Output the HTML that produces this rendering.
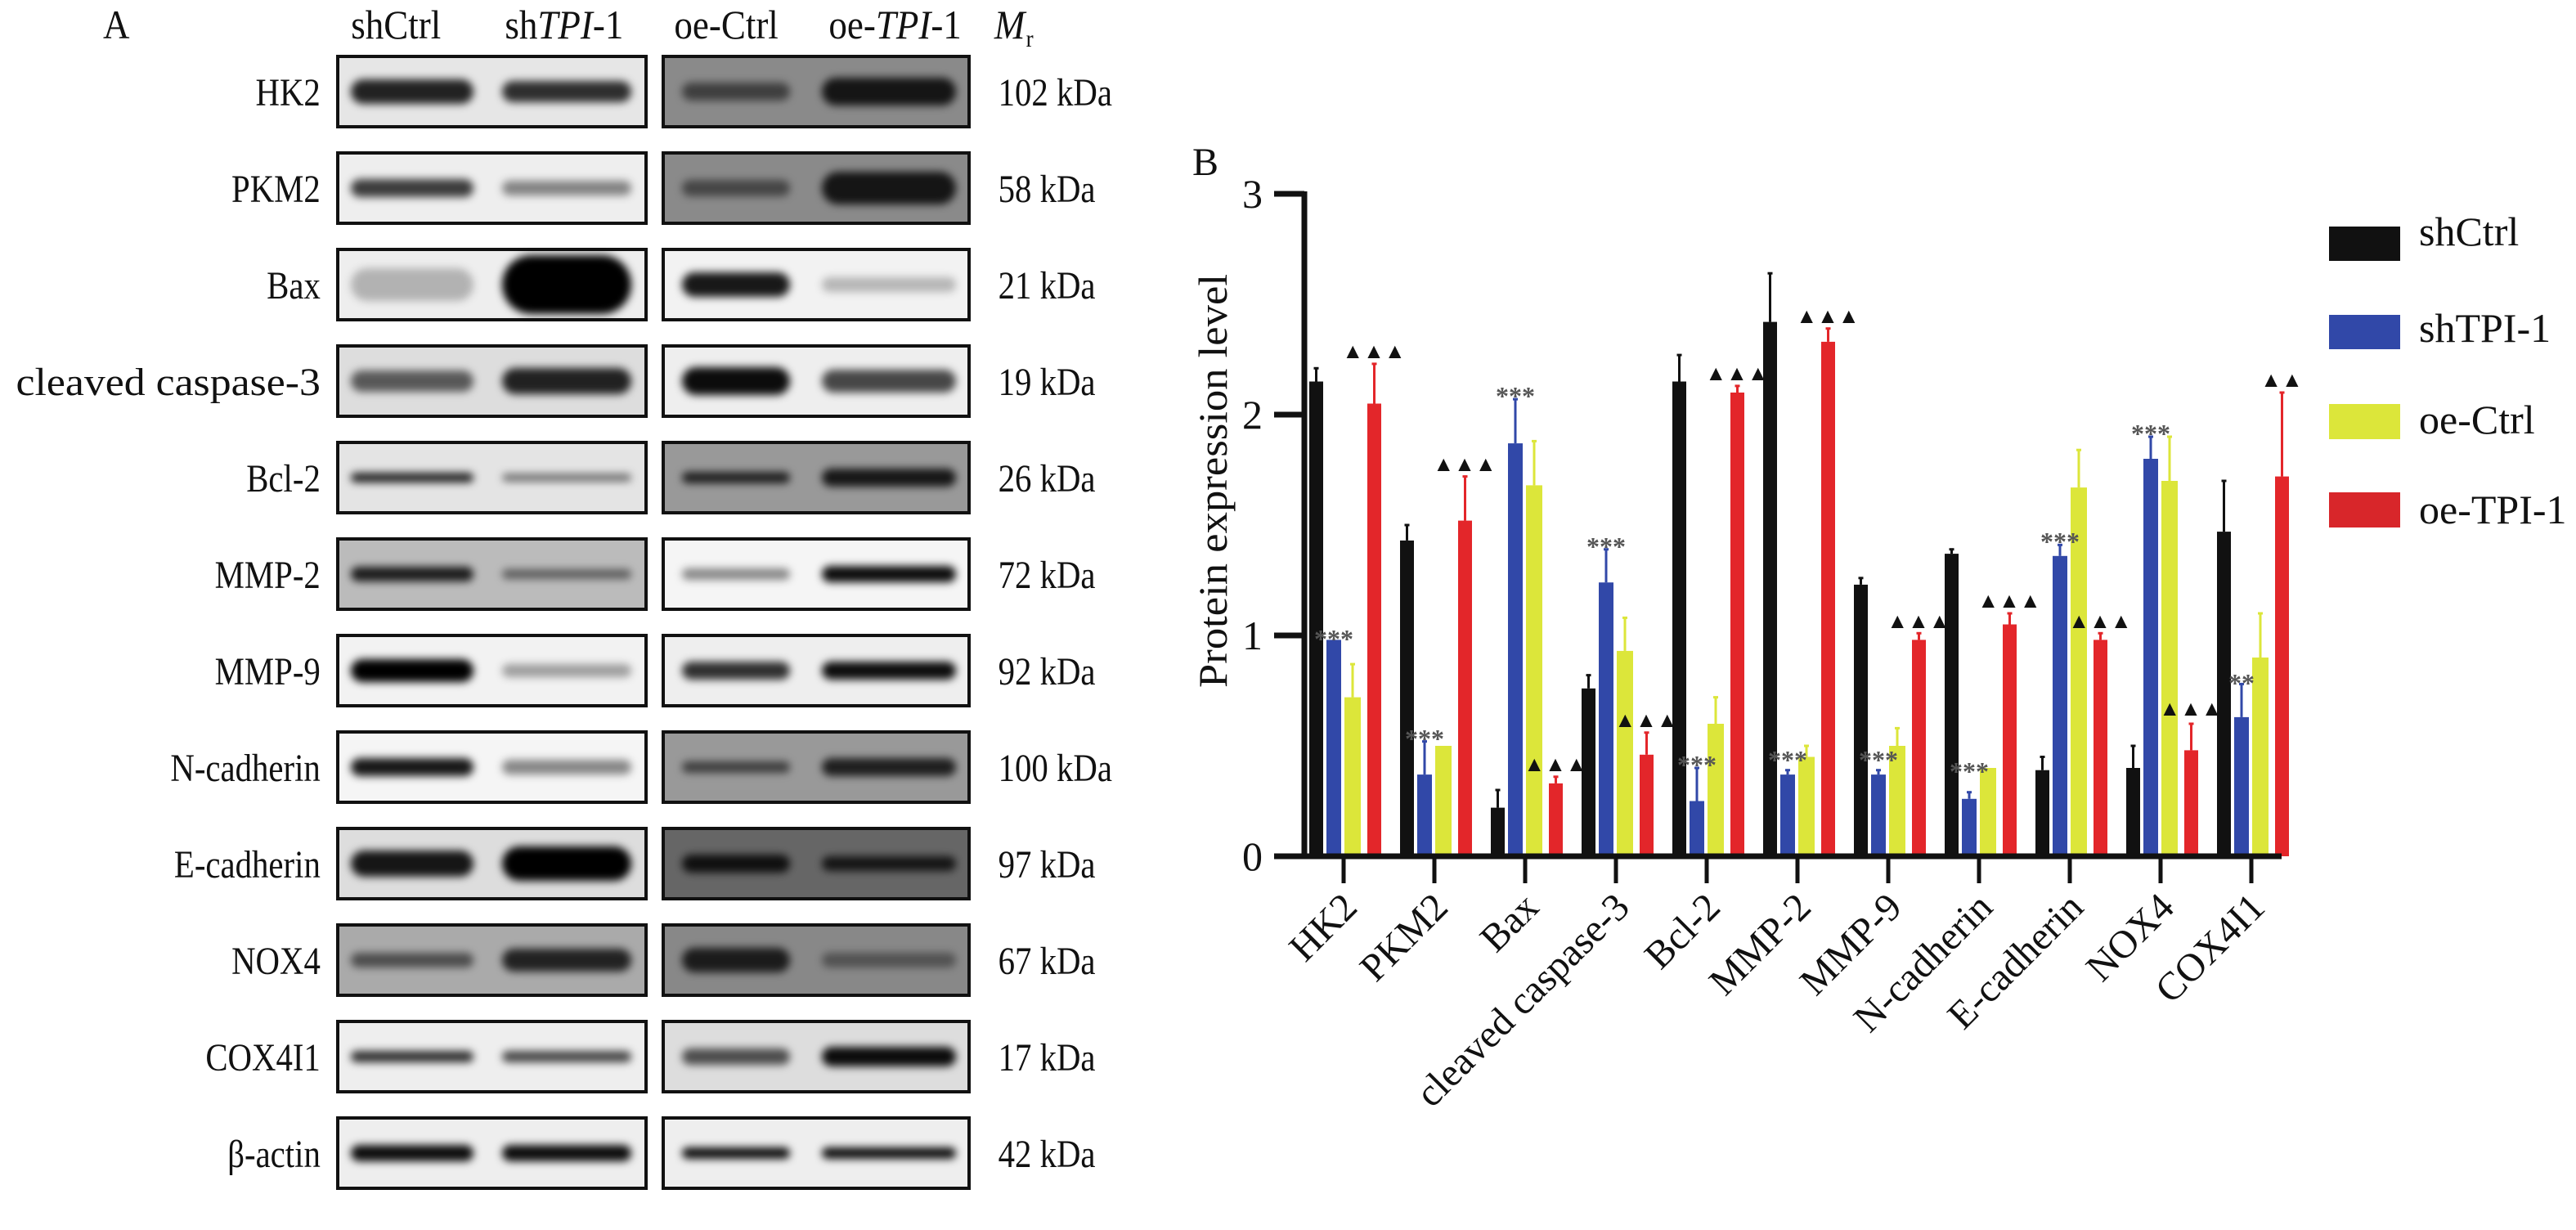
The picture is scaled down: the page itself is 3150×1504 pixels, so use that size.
<!DOCTYPE html>
<html><head><meta charset="utf-8"><style>
html,body{margin:0;padding:0;background:#fff}
svg{display:block}
text{font-family:"Liberation Serif",serif;fill:#111}
</style></head><body>
<svg id="s" width="3150" height="1504" viewBox="0 0 3150 1504" xmlns="http://www.w3.org/2000/svg">
<defs>
<filter id="bl" x="-20%" y="-100%" width="140%" height="300%"><feGaussianBlur stdDeviation="5"/></filter>
</defs>
<g id="blots"></g>
<g id="bars"></g>
<!-- Panel A header -->
<g font-size="50" transform="scale(0.9,1)">
<text x="140" y="47">A</text>
<text x="477" y="47">shCtrl</text>
<text x="686" y="47">sh<tspan font-style="italic">TPI</tspan>-1</text>
<text x="916" y="47">oe-Ctrl</text>
<text x="1126" y="47">oe-<tspan font-style="italic">TPI</tspan>-1</text>
<text x="1351" y="47" font-style="italic">M</text><text x="1394" y="57" font-size="30">r</text>
</g>
<g font-size="48" text-anchor="end" transform="scale(0.85,1)">
<text x="461" y="129">HK2</text>
<text x="461" y="247">PKM2</text>
<text x="461" y="365">Bax</text>
<text x="461" y="483" textLength="438" lengthAdjust="spacingAndGlyphs">cleaved caspase-3</text>
<text x="461" y="601">Bcl-2</text>
<text x="461" y="719">MMP-2</text>
<text x="461" y="837">MMP-9</text>
<text x="461" y="955">N-cadherin</text>
<text x="461" y="1073">E-cadherin</text>
<text x="461" y="1191">NOX4</text>
<text x="461" y="1309">COX4I1</text>
<text x="461" y="1427">β-actin</text>
</g>
<g font-size="48" transform="scale(0.85,1)">
<text x="1436" y="129">102 kDa</text>
<text x="1436" y="247">58 kDa</text>
<text x="1436" y="365">21 kDa</text>
<text x="1436" y="483">19 kDa</text>
<text x="1436" y="601">26 kDa</text>
<text x="1436" y="719">72 kDa</text>
<text x="1436" y="837">92 kDa</text>
<text x="1436" y="955">100 kDa</text>
<text x="1436" y="1073">97 kDa</text>
<text x="1436" y="1191">67 kDa</text>
<text x="1436" y="1309">17 kDa</text>
<text x="1436" y="1427">42 kDa</text>
</g>
<!-- Panel B -->
<text x="1458" y="214" font-size="48">B</text>
<g stroke="#111" stroke-width="7">
<line x1="1595" y1="234" x2="1595" y2="1050"/>
<line x1="1558" y1="1047" x2="2790" y2="1047"/>
<line x1="1558" y1="237" x2="1595" y2="237"/>
<line x1="1558" y1="507" x2="1595" y2="507"/>
<line x1="1558" y1="777" x2="1595" y2="777"/>
</g>
<g stroke="#111" stroke-width="5" id="xt"></g>
<g font-size="50" text-anchor="end">
<text x="1544" y="254">3</text>
<text x="1544" y="524">2</text>
<text x="1544" y="794">1</text>
<text x="1544" y="1064">0</text>
</g>
<text font-size="50" transform="translate(1500,588) rotate(-90)" text-anchor="middle" textLength="506" lengthAdjust="spacingAndGlyphs">Protein expression level</text>
<g font-size="48" text-anchor="end">
<text transform="translate(1662,1112) rotate(-45)">HK2</text>
<text transform="translate(1773,1112) rotate(-45)">PKM2</text>
<text transform="translate(1884,1112) rotate(-45)">Bax</text>
<text transform="translate(1995,1112) rotate(-45)">cleaved caspase-3</text>
<text transform="translate(2106,1112) rotate(-45)">Bcl-2</text>
<text transform="translate(2217,1112) rotate(-45)">MMP-2</text>
<text transform="translate(2328,1112) rotate(-45)">MMP-9</text>
<text transform="translate(2439,1112) rotate(-45)">N-cadherin</text>
<text transform="translate(2550,1112) rotate(-45)">E-cadherin</text>
<text transform="translate(2661,1112) rotate(-45)">NOX4</text>
<text transform="translate(2772,1112) rotate(-45)">COX4I1</text>
</g>
<g font-size="32" text-anchor="middle" font-weight="bold">
<text x="1631" y="792" style="fill:#555">***</text>
<text x="1742" y="914" style="fill:#555">***</text>
<text x="1853" y="495" style="fill:#555">***</text>
<text x="1964" y="679" style="fill:#555">***</text>
<text x="2075" y="946" style="fill:#555">***</text>
<text x="2186" y="940" style="fill:#555">***</text>
<text x="2297" y="940" style="fill:#555">***</text>
<text x="2408" y="954" style="fill:#555">***</text>
<text x="2519" y="673" style="fill:#555">***</text>
<text x="2630" y="541" style="fill:#555">***</text>
<text x="2741" y="846" style="fill:#555">**</text>
</g>
<g font-size="26" text-anchor="middle">
<text x="1680" y="438">▲▲▲</text>
<text x="1791" y="576">▲▲▲</text>
<text x="1902" y="943">▲▲▲</text>
<text x="2013" y="889">▲▲▲</text>
<text x="2124" y="465">▲▲▲</text>
<text x="2235" y="395">▲▲▲</text>
<text x="2346" y="768">▲▲▲</text>
<text x="2457" y="743">▲▲▲</text>
<text x="2568" y="768">▲▲▲</text>
<text x="2679" y="875">▲▲▲</text>
<text x="2790" y="473">▲▲</text>
</g>
<!-- legend -->
<rect x="2848" y="277" width="87" height="42" fill="#111"/>
<rect x="2848" y="385" width="87" height="42" fill="#3148a8"/>
<rect x="2848" y="494" width="87" height="43" fill="#dce63a"/>
<rect x="2848" y="602" width="87" height="43" fill="#d8262a"/>
<g font-size="50">
<text x="2958" y="300">shCtrl</text>
<text x="2958" y="418">shTPI-1</text>
<text x="2958" y="530">oe-Ctrl</text>
<text x="2958" y="640">oe-TPI-1</text>
</g>
</svg>
<script>
(function(){
var NS="http://www.w3.org/2000/svg";
function el(p,n,a){var e=document.createElementNS(NS,n);for(var k in a)e.setAttribute(k,a[k]);p.appendChild(e);return e;}
var B=document.getElementById('blots');
var rows=[
['#e6e6e6','#8a8a8a',[.85,30],[.8,26],[.55,22],[.85,34]],
['#eeeeee','#8a8a8a',[.75,22],[.45,18],[.5,20],[.85,40]],
['#eeeeee','#f2f2f2',[.25,40],[1,72],[.9,30],[.25,18]],
['#dddddd','#eeeeee',[.6,26],[.85,32],[.95,34],[.7,28]],
['#e4e4e4','#999999',[.85,12],[.5,10],[.8,14],[.85,22]],
['#bbbbbb','#f5f5f5',[.85,18],[.5,12],[.45,14],[.95,20]],
['#f2f2f2','#eeeeee',[1,28],[.35,16],[.8,22],[.95,22]],
['#f5f5f5','#999999',[.9,22],[.45,18],[.6,14],[.8,22]],
['#dddddd','#666666',[.9,32],[1,42],[.85,22],[.8,18]],
['#aaaaaa','#888888',[.55,18],[.8,28],[.8,30],[.4,18]],
['#eeeeee','#dddddd',[.8,14],[.7,14],[.65,20],[.95,24]],
['#eeeeee','#eeeeee',[.95,20],[.95,20],[.95,14],[.95,14]]];
var lanes=[[425,583],[610,776],[830,970],[1001,1173]];
rows.forEach(function(r,i){
 var y=69+i*118, h=86, cy=y+h/2;
 el(B,'rect',{x:413,y:y,width:377,height:h,fill:r[0],stroke:'#111','stroke-width':4});
 el(B,'rect',{x:811,y:y,width:374,height:h,fill:r[1],stroke:'#111','stroke-width':4});
 for(var j=0;j<4;j++){var b=r[2+j],L=lanes[j];
  el(B,'rect',{x:L[0]+4,y:cy-b[1]/2,width:L[1]-L[0]-8,height:b[1],rx:b[1]/2,fill:'#000','fill-opacity':b[0],filter:'url(#bl)'});
 }
});
var G=document.getElementById('bars');
var cols=['#111111','#3148a8','#dce63a','#e3262a'];
var offs=[[-42,17],[-21,18],[1,20],[29,17]];
var d=[
[[2.15,.06],[.98,0],[.72,.15],[2.05,.18]],
[[1.43,.07],[.37,.15],[.5,0],[1.52,.2]],
[[.22,.08],[1.87,.2],[1.68,.2],[.33,.03]],
[[.76,.06],[1.24,.15],[.93,.15],[.46,.1]],
[[2.15,.12],[.25,.15],[.6,.12],[2.1,.03]],
[[2.42,.22],[.37,.02],[.45,.05],[2.33,.06]],
[[1.23,.03],[.37,.02],[.5,.08],[.98,.03]],
[[1.37,.02],[.26,.03],[.4,0],[1.05,.05]],
[[.39,.06],[1.36,.05],[1.67,.17],[.98,.03]],
[[.4,.1],[1.8,.1],[1.7,.2],[.48,.12]],
[[1.47,.23],[.63,.15],[.9,.2],[1.72,.38]]];
function Y(v){return 1047-270*v;}
var XT=document.getElementById('xt');
d.forEach(function(g,i){
 var c=1643+111*i;
 el(XT,'line',{x1:c,y1:1047,x2:c,y2:1080});
 g.forEach(function(b,k){
  var x=c+offs[k][0],w=offs[k][1],cx=x+w/2;
  el(G,'rect',{x:x,y:Y(b[0]),width:w,height:1047-Y(b[0]),fill:cols[k]});
  if(b[1]>0){el(G,'line',{x1:cx,y1:Y(b[0]),x2:cx,y2:Y(b[0]+b[1]),stroke:cols[k],'stroke-width':3});
   el(G,'line',{x1:cx-3,y1:Y(b[0]+b[1]),x2:cx+3,y2:Y(b[0]+b[1]),stroke:cols[k],'stroke-width':3});}
 });
});
})();
</script>
</body></html>
